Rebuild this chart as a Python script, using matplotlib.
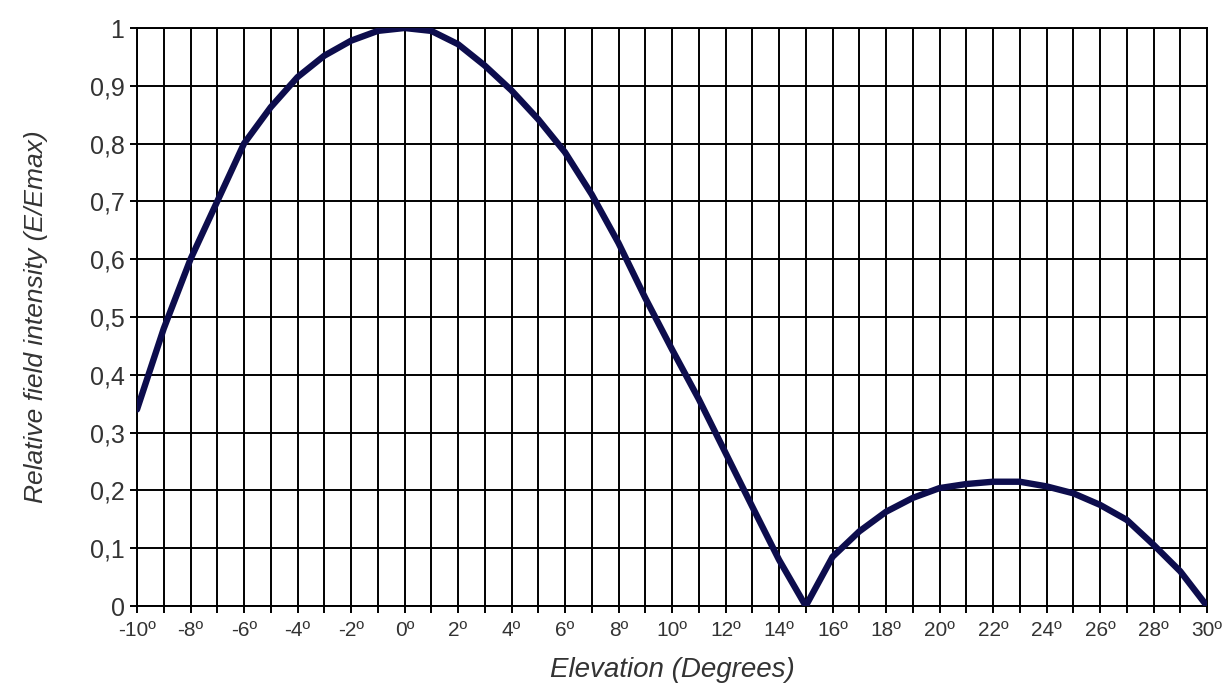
import matplotlib
matplotlib.use('Agg')
import matplotlib.pyplot as plt
from matplotlib.ticker import MultipleLocator

plt.rcParams['font.family'] = ['Liberation Sans', 'DejaVu Sans']

# elevation in degrees and relative field intensity
elevation = list(range(-10, 31))
intensity = [0.34, 0.48, 0.60, 0.70, 0.80, 0.863, 0.915, 0.952, 0.978, 0.995,
             1.0, 0.995, 0.972, 0.935, 0.892, 0.842, 0.785, 0.712, 0.628, 0.533,
             0.444, 0.358, 0.265, 0.172, 0.08, 0.0, 0.085, 0.129, 0.163, 0.187,
             0.204, 0.211, 0.215, 0.215, 0.207, 0.195, 0.175, 0.149, 0.106, 0.06,
             0.0]

x_ticks = list(range(-10, 31, 2))
x_labels = [str(t) + 'º' for t in x_ticks]
y_ticks = [i / 10 for i in range(11)]
y_labels = ['0', '0,1', '0,2', '0,3', '0,4', '0,5', '0,6', '0,7', '0,8', '0,9', '1']

fig = plt.figure(figsize=(12.27, 6.93), dpi=100)
ax = fig.add_axes([137 / 1227, 87 / 693, 1070 / 1227, 578 / 693])

ax.plot(elevation, intensity, color='#0d0d4d', linewidth=4.6, solid_capstyle='round',
        solid_joinstyle='round', zorder=3)

ax.set_xlim(-10, 30)
ax.set_ylim(0, 1)

ax.set_xticks(x_ticks)
ax.set_xticklabels(x_labels, fontsize=15)
ax.xaxis.set_minor_locator(MultipleLocator(1))
ax.set_yticks(y_ticks)
ax.set_yticklabels(y_labels, fontsize=18)

ax.tick_params(axis='both', which='both', direction='out', length=5, width=1.4,
               color='black', labelcolor='#333333')
ax.tick_params(axis='x', which='both', pad=6)
ax.tick_params(axis='y', pad=4)

ax.grid(True, which='both', axis='x', color='black', linewidth=1.4)
ax.grid(True, which='major', axis='y', color='black', linewidth=1.4)

for s in ax.spines.values():
    s.set_color('black')
    s.set_linewidth(1.4)

ax.set_xlabel('Elevation (Degrees)', fontsize=20, style='italic', color='#333333', labelpad=12)
ax.set_ylabel('Relative field intensity (E/Emax)', fontsize=19, style='italic',
              color='#333333', labelpad=30)

fig.savefig('out.png', dpi=100)
